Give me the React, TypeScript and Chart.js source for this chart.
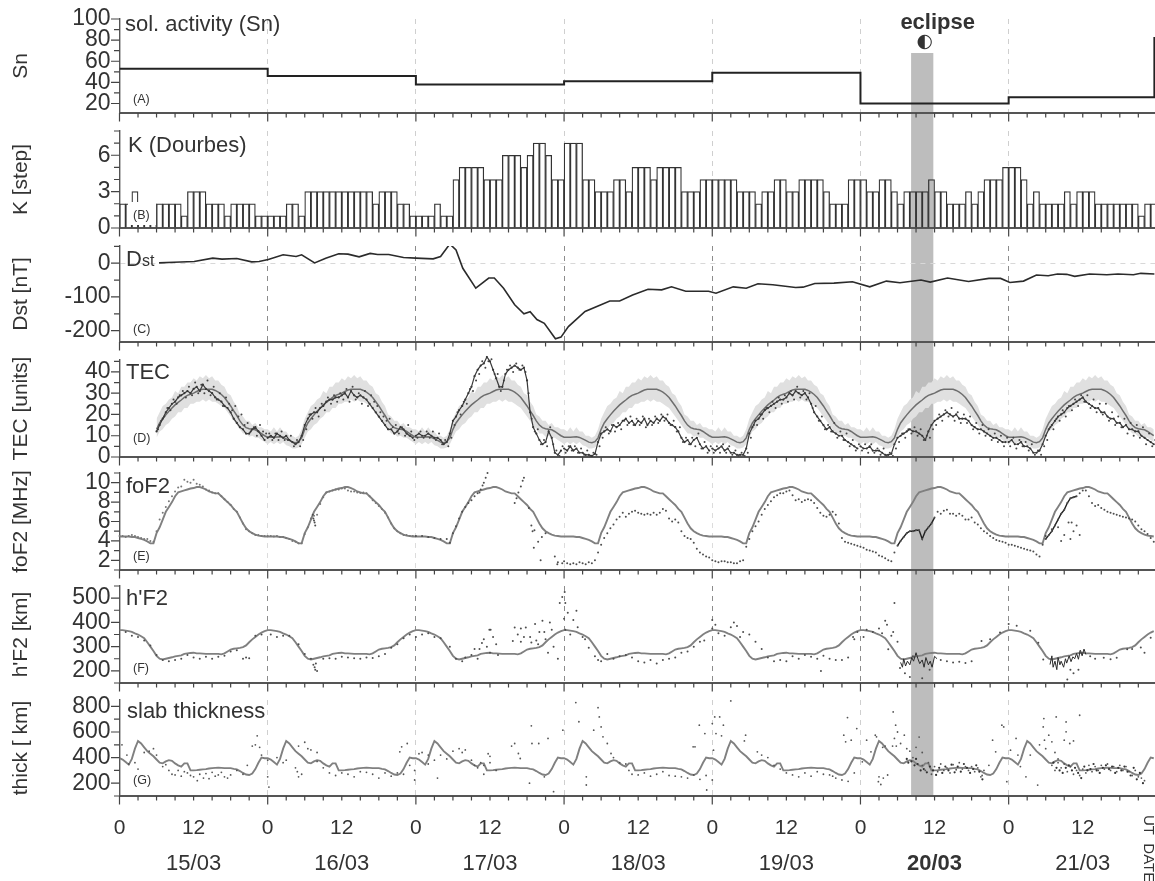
import { useEffect, useRef } from 'react';
import { Chart, registerables } from 'chart.js';

Chart.register(...registerables);

const FONT = '"Liberation Sans", Arial, sans-serif';
const INK = '#333';
const X_MAX = 167.7;

// eclipse window in hours since 15/03 00 UT, and top of the band in Sn units
const eclipseStart = 128.2;
const eclipseEnd = 131.8;
const eclipseTopSn = 67.8;

const dayLabels = ['15/03', '16/03', '17/03', '18/03', '19/03', '20/03', '21/03'];

// (A) sunspot number, value per day
const snHours = [0, 24, 48, 72, 96, 120, 144, 167.6];
const snValues = [53, 46, 38, 41, 49, 20, 26, 83];

// (B) K index, one bar per hour
const kValues = [
  2, 2, 3, 2, 2, 2, 2, 2, 2, 2, 1, 3, 3, 3, 2, 2, 2, 1, 2, 2, 2, 2, 1, 1,
  1, 1, 1, 2, 2, 1, 3, 3, 3, 3, 3, 3, 3, 3, 3, 3, 3, 2, 3, 3, 3, 2, 2, 1,
  1, 1, 1, 2, 1, 1, 4, 5, 5, 5, 5, 4, 4, 4, 6, 6, 6, 5, 6, 7, 7, 6, 4, 4,
  7, 7, 7, 4, 4, 3, 3, 3, 4, 4, 3, 5, 5, 5, 4, 5, 5, 5, 5, 3, 3, 3, 4, 4,
  4, 4, 4, 4, 3, 3, 3, 2, 3, 3, 4, 4, 3, 3, 4, 4, 4, 4, 3, 2, 2, 2, 4, 4,
  4, 3, 3, 4, 4, 3, 2, 3, 3, 3, 3, 4, 3, 3, 2, 2, 2, 3, 2, 3, 4, 4, 4, 5,
  5, 5, 4, 2, 3, 2, 2, 2, 2, 3, 2, 3, 3, 3, 2, 2, 2, 2, 2, 2, 2, 1, 2, 2,
];

// (C) Dst
const dstHours = [
  6.4, 8.8, 12.1, 15.1, 16.6, 19, 21.4, 22.6, 24.1, 26.5, 28.6, 29.5, 31.6, 33.4, 35.5, 37, 38.8, 40.6, 41.8, 43.6,
  46, 48, 50.8, 52, 53.5, 54.5, 55.6, 57.7, 59.8, 60.7, 62.2, 64, 65.5, 66.5, 67.6, 68.8, 70.6, 71.5, 72.7, 75.4,
  77.6, 79.4, 81, 83.1, 85.6, 87.8, 89.4, 91.7, 95.4, 96.6, 99.4, 101.5, 103.4, 105.8, 109.5, 110.7, 112.6, 115.7,
  118.7, 121.5, 124.2, 126.4, 129.8, 131.3, 134.1, 137.5, 140.8, 142.7, 144.2, 146.4, 148.5, 150.4, 151.9, 153.4,
  154.7, 157.1, 159.9, 161.7, 164.2, 165.4, 167.6,
];
const dstValues = [
  1, 3, 5, 15, 12, 14, 4, 5, 11, 25, 20, 25, 1, 15, 28, 27, 19, 29, 26, 26,
  17, 15, 13, 20, 57, 39, -15, -74, -44, -44, -74, -123, -150, -144, -167, -178, -224, -219, -188, -143,
  -126, -112, -112, -94, -77, -79, -70, -83, -83, -89, -70, -74, -61, -64, -72, -71, -60, -59,
  -55, -70, -53, -58, -50, -56, -44, -54, -45, -45, -57, -53, -35, -37, -32, -33,
  -39, -32, -34, -32, -34, -30, -32,
];

// (D) TEC: half-hourly monthly median and its spread for one day
const tecMedianDay = [
  9.3, 9.3, 9.3, 9.4, 9.5, 9.2, 8.5, 7.8, 7, 6.7, 7.2, 9, 13, 16, 18, 19.8, 21.5, 23, 24.5, 25.7, 26.8, 28, 29, 29.5,
  30, 30.8, 31.5, 31.8, 31.9, 31.9, 31.8, 31.3, 30.5, 29.4, 28, 26, 24, 21.7, 19.5, 17, 15, 13.8, 13.3, 13, 12.8, 12, 11, 10,
];
const tecUpperDay = [
  13, 12, 14, 12, 14, 12, 12, 10, 10, 9, 10, 13, 18, 21, 24, 25, 27, 28, 31, 30, 33, 33, 35, 35,
  37, 36, 38, 37, 38.5, 37, 38, 36, 36, 34, 33, 30, 29, 26, 24, 20, 19, 17, 17, 15, 16, 14, 14, 13,
];
const tecLowerDay = [
  6, 7, 6, 7, 6, 7, 5.5, 5, 4, 4, 4.5, 6, 9, 12, 13, 15, 16, 18, 19, 21, 21, 23, 23, 25,
  25, 26, 26, 27, 26, 27, 26, 26, 25, 24, 23, 21, 19, 17, 15, 13, 11, 11, 9.5, 10, 9, 9, 8, 7,
];

// TEC observed, half-hourly, one list per day
const tecObs15 = [
  null, null, null, null, null, null, null, null, null, null, null, null, 12, 15, 18, 21, 23, 25, 26, 28, 29, 30, 31, 30,
  32, 33, 31, 34, 32, 31, 30, 28, 27, 26, 24, 23, 21, 18, 16, 14, 13, 11, 11, 13, 14, 12, 10, 8,
];
const tecObs16 = [
  9, 10, 9, 11, 10, 9, 10, 8, 7, 6, 7, 10, 15, 18, 20, 21, 21, 23, 24, 26, 27, 27, 28, 28,
  29, 30, 28, 31, 29, 28, 29, 28, 27, 25, 23, 21, 19, 17, 15, 13, 13, 11, 12, 14, 13, 11, 10, 9,
];
const tecObs17 = [
  10, 11, 10, 10, 11, 10, 9, 9, 8, 6, 7, 11, 17, 19, 22, 24, 27, 30, 33, 38, 41, 43, 44, 47,
  45, 41, 37, 33, 33, 39, 41, 42, 43, 42, 41, 42, 36, 21, 14, 11, 8, 6, 7, 12, 9, 2, 1, 3,
];
const tecObs18 = [
  4, 3, 5, 3, 4, 2, 2, 1, 1, 0.5, 1.5, 7, 11, 12, 13, 12, 15, 14, 15, 17, 18, 16, 17, 15,
  17, 16, 18, 15, 17, 16, 18, 17, 19, 18, 16, 15, 14, 12, 9, 7, 8, 6, 8, 9, 6, 4, 5, 3,
];
const tecObs19 = [
  4, 3, 4, 5, 3, 4, 2, 2, 1, 1, 1, 4, 11, 14, 17, 18, 20, 22, 23, 24, 25, 26, 27, 27,
  28, 30, 29, 31, 30, 29, 30, 28, 25, 21, 19, 17, 15, 13, 14, 12, 11, 10, 10, 8, 7, 6, 5, 4,
];
const tecObs20 = [
  5, 4, 4, 5, 3, 3, 3, 2, 1, 1, 1.5, 6, 9, 10, 11, 12, 13, 12, 12, 11, 10, 8, 12, 15,
  17, 18, 19, 20, 21, 20, 19, 20, 18, 18, 18, 17, 15, 14, 13, 13, 12, 11, 10, 9, 9, 8, 7, 7,
];
const tecObs21 = [
  7, 8, 6, 6, 7, 5, 5, 4, 2, 2, 3, 6, 10, 13, 15, 17, 19, 20, 21, 23, 24, 25, 26, 27,
  28, 26, 25, 24, 23, 23, 21, 21, 19, 18, 18, 16, 16, 14, 15, 13, 13, 12, 12, 10, 9, 8, 7, 6,
];
// second readings between the half hours, the speckle around the trace
const tecSpeck15 = [
  null, null, null, null, null, null, null, null, null, null, null, null, 13, 17, 19, 23, 22, 27, 25, 29, 31, 28, 33, 29,
  35, 30, 34, 30, 36, 29, 33, 27, 30, 24, 28, 25, 22, 24, 19, 20, 15, 16, 12, 14, 10, 15, 12, 11,
];
const tecSpeck16 = [
  11, 8, 11, 8, 12, 8, 8, 10, 5, 8, 5, 8, 13, 20, 18, 23, 19, 25, 22, 28, 25, 29, 26, 30,
  27, 32, 26, 33, 27, 30, 25, 31, 24, 29, 26, 24, 21, 19, 17, 18, 14, 15, 11, 14, 10, 15, 12, 8,
];
const tecSpeck17 = [
  9, 12, 9, 12, 9, 12, 8, 11, 6, 8, 5, 9, 15, 21, 20, 26, 25, 32, 31, 36, 39, 45, 42, 45,
  46, 39, 39, 31, 36, 41, 43, 40, 44, 41, 43, 40, 30, 18, 12, 13, 6, 8, 5, 14, 6, 3, 0.5, 5,
];
const tecSpeck18 = [
  2, 5, 3, 5, 2, 4, 1, 3, 0.5, 2, 1, 5, 9, 14, 11, 15, 12, 16, 13, 17, 15, 19, 15, 18,
  15, 19, 14, 18, 15, 19, 16, 20, 17, 20, 15, 17, 12, 14, 7, 9, 6, 9, 5, 11, 4, 7, 2, 5,
];
const tecSpeck19 = [
  2, 5, 2, 6, 2, 5, 1, 3, 0.5, 2, 0.5, 2, 9, 15, 15, 20, 18, 23, 21, 26, 23, 28, 25, 29,
  26, 31, 27, 33, 28, 31, 27, 30, 23, 24, 17, 19, 13, 15, 12, 16, 9, 12, 8, 11, 5, 8, 3, 6,
];
const tecSpeck20 = [
  3, 6, 2, 6, 2, 4, 1, 4, 0.5, 2, 0.5, 4, 7, 11, 9, 13, 11, 14, 10, 13, 8, 10, 9, 13,
  15, 20, 17, 22, 19, 23, 17, 21, 16, 20, 16, 19, 13, 16, 11, 15, 10, 13, 8, 11, 7, 10, 5, 9,
];
const tecSpeck21 = [
  5, 9, 4, 8, 5, 7, 3, 6, 1, 3, 1, 5, 8, 14, 13, 18, 17, 22, 19, 24, 22, 27, 24, 29,
  26, 29, 23, 27, 21, 25, 20, 25, 17, 21, 15, 19, 14, 18, 11, 16, 10, 15, 9, 14, 6, 11, 5, 8,
];

// (E) foF2
const fof2MedianDay = [
  4.45, 4.45, 4.45, 4.45, 4.4, 4.4, 4.3, 4.2, 4.1, 3.95, 3.75, 3.75, 4.8, 5.4, 6.2, 7, 7.5, 8, 8.6, 9, 9.1, 9.2, 9.3, 9.4,
  9.45, 9.55, 9.55, 9.45, 9.3, 9.1, 9, 8.9, 8.9, 8.6, 8.3, 8, 7.7, 7.3, 7, 6.4, 5.8, 5.3, 5, 4.8, 4.65, 4.55, 4.5, 4.45,
];
const fof2Obs15 = [
  4.5, 4.5, 4.4, 4.5, 4.6, 4.5, 4.4, 4.3, 4.2, 4.2, 4, 3.9, 5, 6.2, 6.9, 7.5, 8.1, 8.6, 9.1, 9.5, 9.6, 10.3, 10.1, 10,
  10.3, 9.9, 9.8, 9.6, 9.3, 9.2, 9, 8.9, 8.9, 8.6, 8.3, 8, 7.7, 7.3, 7, 6.4, 5.8, 5.2, 5, 4.8, 4.6, 4.6, 4.5, 4.5,
];
const fof2Obs16 = [
  4.5, 4.5, 4.45, 4.5, 4.4, 4.4, 4.3, 4.2, 4, 3.9, 3.75, 3.75, 4.7, 5.4, 6.3, 6.6, 6.7, 7.8, 8.5, 9, 9.1, 9.2, 9.3, 9.3,
  9.4, 9.4, 9.2, 9.1, 9.1, 9, 8.95, 9, 8.9, 8.6, 8.2, 7.9, 7.6, 7.3, 6.9, 6.4, 5.8, 5.3, 5, 4.8, 4.6, 4.6, 4.5, 4.5,
];
const fof2Obs18 = [
  1.9, 1.7, 1.6, 1.7, 1.6, 1.8, 1.7, 1.6, 1.8, 1.7, 2, 2.8, 3.6, 4.3, 4.8, 5.3, 5.7, 6.2, 6.5, 6.9, 6.5, 6.8, 7, 7.1,
  6.9, 6.8, 6.7, 6.8, 6.7, 6.9, 6.7, 6.9, 7.3, 7.1, 6.3, 6, 6.2, 5.9, 5, 4.5, 4.3, 4.2, 3.8, 3.2, 2.8, 2.6, 2.4, 2.3,
];
const fof2Obs19 = [
  2, 1.9, 1.8, 1.9, 1.9, 1.8, 1.8, 1.7, 1.7, 1.9, 2, 3.4, 4.2, 5, 5.5, 6, 6.7, 7.3, 7.7, 8.1, 8.5, 8.7, 8.9, 8.9,
  9.1, 9.2, 8.7, 8.2, 8.3, 8, 8.2, 8.3, 8.2, 7.9, 7.4, 6.9, 6.6, 6.5, 6.7, 7, 6.7, 5.8, 4.3, 3.9, 3.8, 3.7, 3.6, 3.5,
];
const fof2Obs20 = [
  3.4, 3.3, 3.1, 3, 2.9, 2.8, 2.5, 2.4, 2.2, 2, 1.9, 2.8, 3.5, 4, 4.4, 4.8, 5, 5, 5.1, 5.1, 4.2, 5, 5.4, 5.8,
  6.4, 7, 6.8, 7.1, 7.2, 6.8, 6.8, 6.6, 6.8, 6.6, 6.2, 6.2, 6.4, 5.9, 5.7, 5.3, 5, 4.8, 4.5, 4.3, 4.1, 4, 3.9, 3.8,
];
const fof2Obs21 = [
  3.6, 3.6, 3.5, 3.4, 3.3, 3.2, 3.1, 3, 2.9, 2.6, 2.4, 3.6, 4.2, 4.6, 5, 5.6, 6.2, 6.8, 7.2, 7.9, 8.4, 8.5, 8.6, 8.9,
  9.2, 9.2, 8.6, 7.9, 7.6, 7.7, 7.4, 7.2, 7, 6.9, 6.8, 6.7, 6.6, 6.5, 6.4, 6.3, 6.2, 6, 5.6, 5.2, 5, 4.7, 4.3, 3.9,
];
// the irregular soundings, as [hour, MHz]
const fof2Dots: number[][] = [
  [31.3, 6.7], [31.4, 6.3], [31.5, 6.1], [31.6, 5.9], [31.7, 5.6],
  [48, 4.5], [49, 4.5], [50, 4.4], [51, 4.3], [52, 4.2], [53, 4.2], [53.5, 3.8], [54, 4.8], [54.5, 5.5], [55, 6.3], [55.5, 7], [56, 7.5],
  [56.5, 7.9], [57, 8.2], [57.5, 8.6], [58, 8.9], [58.3, 9], [58.5, 9.3], [58.8, 9.7], [59, 10], [59.3, 10.5], [59.6, 11],
  [64, 7.9], [64.3, 8.4], [64.6, 9], [65, 9.6], [65.3, 10.2], [65.5, 10.5], [66.3, 7.4], [66.7, 5.6], [66.9, 5], [67.1, 3.3], [67.2, 5.1],
  [67.8, 3.9], [68.2, 2], [68.4, 4.4], [69, 4.8], [70.5, 2.4], [71.7, 1.7], [70.9, 1.6], [71, 1.8],
  [150, 4.5], [151, 5.2], [152, 5.4], [152.5, 4], [153, 4.6], [153.7, 5.9], [154.2, 5.9], [155, 5.6], [154.5, 5], [155.5, 4.6], [154, 4.2],
];
// darker trace through the eclipse and the morning of 21/03
const fof2Dense20: number[][] = [
  [126, 3.5], [126.5, 4], [127, 4.4], [127.5, 4.8], [128, 5], [128.5, 5], [129, 5.1], [129.5, 5.1], [130, 4.2], [130.5, 5], [131, 5.4], [131.5, 5.8], [132, 6.4],
];
const fof2Dense21: number[][] = [
  [150, 4.2], [150.5, 4.6], [151, 5], [151.5, 5.6], [152, 6.2], [152.5, 6.8], [153, 7.2], [153.5, 7.9], [154, 8.4], [154.5, 8.5], [155, 8.6],
];

// (F) h'F2
const hf2MedianDay = [
  368, 368, 366, 364, 361, 355, 350, 343, 335, 318, 300, 282, 262, 250, 247, 250, 253, 256, 260, 262, 264, 270, 272, 274,
  275, 272, 272, 271, 270, 270, 270, 270, 270, 268, 272, 280, 288, 291, 293, 295, 298, 305, 318, 330, 340, 350, 358, 364,
];
const hf2Dots: number[][] = [
  [1, 360], [2, 345], [3, 340], [4, 325], [5, 305], [6, 265], [7, 245], [8, 240], [9, 245], [10, 250], [11, 265], [12, 255], [13, 250], [14, 258],
  [15, 250], [16, 258], [17, 262], [18, 280], [19, 285], [20, 250], [20.5, 255], [21, 252], [22, 345], [23, 350],
  [24.5, 350], [25.5, 340], [26.5, 345], [27.5, 345], [29, 310], [30, 270], [31, 250], [31.6, 215], [31.7, 205], [31.8, 230], [32, 200], [31.4, 225],
  [33, 250], [34, 252], [35, 250], [36, 258], [37, 255], [38, 252], [39, 250], [40, 255], [41, 253], [42, 260], [43, 270], [44, 295], [45, 310], [46, 335], [47, 350],
  [48, 340], [49, 350], [50, 355], [51, 340], [52, 335], [53.5, 300], [54.5, 250], [55.5, 240], [56, 255], [57, 265], [57.5, 290], [58, 250], [58.3, 290],
  [58.7, 315], [59, 330], [59.5, 300], [59.9, 370], [60, 275], [60.1, 370], [60.5, 340], [61, 310], [61.3, 265],
  [64, 379], [63.7, 323], [64.5, 350], [65, 320], [65, 375], [65.5, 340], [65.8, 379], [66.5, 340], [66.7, 317], [67.3, 393], [67.5, 325], [67.8, 310], [68, 360],
  [68.5, 407], [68.8, 360], [69, 330], [69.4, 275], [69.7, 400], [70, 370], [70.3, 300], [71, 250],
  [71.3, 480], [71.7, 505], [72.1, 525], [72.2, 480], [72.6, 440], [72, 415], [72.2, 370], [73, 350], [73.5, 410], [74, 448], [74.2, 380], [75, 340], [75.4, 330], [76, 295],
  [77, 260], [77.5, 245], [78, 240], [79, 270], [80, 250], [81, 260], [82, 265], [83, 255], [84, 240], [85, 235], [86, 245], [87, 230], [88, 245], [89, 250], [90, 255],
  [91, 275], [92, 280], [93, 300], [94, 320], [94.7, 325],
  [96, 410], [96, 375], [96.5, 390], [97, 355], [98, 345], [99, 380], [99.5, 400], [100, 385], [100.5, 340], [101, 360], [102, 350], [103, 320], [104, 290], [105, 255],
  [106, 240], [107, 245], [108, 240], [109, 260], [110, 250], [111, 265], [112, 258], [113, 250], [113.6, 200], [114, 262], [115, 250], [116, 245], [117, 245], [118, 255],
  [118.8, 340], [119, 330], [119.5, 360], [120.5, 340], [121, 370], [122, 360], [123, 375], [123.5, 355], [124, 407], [124.3, 390], [124.5, 289], [125, 345], [125.3, 360], [125.5, 480],
  [126, 320], [126.4, 212], [127.2, 190], [128, 175], [128.5, 260], [130, 170], [131.2, 205],
  [133, 245], [134, 240], [135, 235], [136, 238], [137, 232], [138, 240], [139.6, 323], [141, 330], [142.6, 358], [144, 393], [145.3, 386], [147.5, 365], [148.8, 316], [149.6, 247],
  [153.5, 164], [154, 205], [154.5, 190], [155.3, 205], [155.6, 280], [157.2, 260], [158, 250], [159.4, 254], [160.5, 248], [161.5, 254], [163.2, 289], [164, 290], [165.4, 296], [166, 275], [167, 337],
];
const hf2Dense20: number[][] = [
  [126.5, 235], [126.8, 215], [127, 250], [127.3, 220], [127.6, 240], [128, 225], [128.3, 255], [128.6, 240], [129, 275], [129.3, 250], [129.6, 230], [130, 245], [130.3, 215],
  [130.6, 255], [131, 225], [131.3, 240], [131.6, 215], [132, 260], [132.4, 250],
];
const hf2Dense21: number[][] = [
  [150.7, 226], [151, 262], [151.2, 215], [151.5, 240], [151.8, 205], [152, 255], [152.3, 225], [152.5, 240], [152.9, 215], [153.2, 250], [153.4, 232], [153.8, 262], [154.1, 238],
  [154.4, 258], [154.7, 250], [155, 272], [155.3, 248], [155.6, 285], [155.9, 262], [156.2, 290], [156.5, 268],
];

// (G) slab thickness
const thickMedianDay = [
  395, 385, 365, 345, 390, 470, 530, 510, 480, 450, 430, 410, 385, 360, 355, 370, 380, 375, 355, 340, 330, 355, 355, 300,
  300, 302, 305, 308, 310, 315, 318, 320, 322, 320, 318, 318, 318, 312, 308, 295, 280, 268, 264, 275, 310, 360, 400, 395,
];
const thickDots: number[][] = [
  [0.4, 500], [1.2, 420], [1.5, 350], [2.5, 360], [3, 310], [4, 440], [4.8, 450], [5.5, 470], [6, 420], [7, 330], [7.5, 345], [8, 300], [8.5, 270], [9, 265], [9.5, 300], [10, 255],
  [10.5, 290], [11, 280], [11.5, 260], [12, 250], [12.6, 220], [13, 270], [13.6, 240], [14, 275], [14.5, 235], [15, 285], [15.5, 255], [16, 265], [16.5, 285], [17, 250], [17.5, 240],
  [18, 265], [19, 300], [20, 270], [20.7, 340], [21.5, 490], [22, 500], [22.3, 570], [22.7, 480], [23, 420], [24, 250], [24.2, 170], [24, 380],
  [25.5, 400], [26.5, 360], [27, 380], [28.5, 320], [28.8, 290], [29, 250], [29.5, 270], [30, 520], [29, 490], [30.5, 470], [31, 460], [32, 440], [32, 370], [33, 320], [34, 280],
  [35, 260], [36, 280], [37, 270], [38, 250], [39, 290], [40, 285], [41, 270], [42, 240], [43, 280], [44, 255], [45, 280], [45.4, 445], [45.7, 484], [46, 270], [46.6, 510], [47, 340],
  [47.8, 300], [47.8, 225], [48.5, 430], [49, 440], [50, 420], [50, 350], [51, 380], [51.5, 240], [52, 420], [53, 390], [54, 450], [55, 470], [55.5, 440], [56, 460], [57, 380],
  [57.5, 340], [58, 320], [58.5, 360], [59, 340], [59, 270], [59.7, 430], [60, 410], [60, 360], [61, 300],
  [63.5, 490], [64, 510], [64.6, 432], [64.9, 393], [66.4, 200], [66.7, 648], [66.8, 510], [67.9, 510], [68.8, 250], [69.4, 550], [70.3, 134], [71.8, 614], [73.9, 830],
  [74.4, 680], [75.6, 250], [75.6, 186], [76.8, 614], [77.5, 790], [77.7, 718], [78, 640], [78.3, 562], [79, 510], [79.6, 432], [80, 400], [81, 360], [82, 350], [82.5, 300], [83, 270],
  [84, 265], [85, 280], [86, 255], [87, 270], [88, 290], [89, 260], [90, 255], [91, 250], [92, 240], [92.9, 484], [93.2, 484], [93, 265], [93.9, 653], [94, 230], [94.8, 588], [95, 260], [95.1, 147],
  [96, 666], [96, 225], [96.2, 458], [96.4, 718], [96.6, 588], [97.2, 718], [97.5, 570], [97.8, 653], [99, 843], [101.4, 575], [101.2, 530], [103.3, 445],
  [104, 420], [105, 400], [106, 340], [107, 310], [108, 280], [109, 265], [110, 250], [111, 280], [112, 255], [113, 290], [114, 270], [115, 265], [115.5, 255], [116, 240], [117, 225],
  [117.3, 575], [117.6, 523], [117.9, 713], [118, 215], [118.5, 536], [119, 280], [119.4, 627], [120.3, 367], [121, 536], [121.7, 445], [122.4, 575], [122.6, 562], [122.9, 212], [123, 250],
  [123.3, 190], [123.6, 480], [123.7, 240], [124, 490], [124.4, 264], [125.2, 490], [125.3, 757], [125.5, 550], [125.7, 653], [125.8, 490], [126, 600], [126.5, 510], [127.1, 575],
  [127.5, 470], [128, 450], [128.5, 400], [129, 480], [129.5, 560], [130, 440],
  [130, 340], [130.5, 300], [131, 360], [131.5, 270], [132, 330], [132.5, 290], [133, 350], [133.5, 300], [134, 320], [134.5, 280], [135, 345], [135.5, 305], [136, 360], [136.5, 310],
  [137, 330], [137.5, 300], [138, 330], [138.5, 290], [139, 320], [139.5, 250], [139.7, 260], [140, 300],
  [140.8, 340], [141.4, 536], [141.9, 445], [142.9, 653], [143.2, 640], [143.7, 212], [144.3, 458], [145.2, 550], [145.5, 420], [145.9, 330], [146.8, 250], [147.5, 420], [148.7, 185],
  [149, 500], [149.6, 640], [149.7, 705], [149.8, 536], [150, 470], [150.5, 575], [151, 523], [151.5, 440], [151.7, 718], [152, 390], [153, 536], [153.3, 679], [153.3, 601], [153.9, 510],
  [154.5, 530], [155.5, 731],
  [151, 340], [151.5, 300], [152, 360], [152.5, 320], [153, 350], [153.5, 290], [154, 330], [154.5, 270], [155, 300], [155.5, 260], [156, 310], [156.5, 280], [157, 340], [157.5, 290],
  [158, 330], [158.5, 300], [159, 340], [159.5, 310], [160, 350], [160.5, 300], [161, 330], [161.5, 290], [162, 340], [162.5, 300], [163, 330], [163.5, 290], [164, 260], [164.5, 300], [165, 250],
  [165.5, 240], [166, 220],
];
// the thick run of soundings during and after the eclipse, and on 21/03
const thickDense: number[][] = [
  [127.5, 390], [127.75, 360], [128.25, 370], [128.75, 340], [129, 390], [129.25, 350], [129.75, 300], [130.25, 310], [130.75, 285], [131.25, 330], [131.75, 300], [132.25, 265],
  [132.75, 320], [133.25, 280], [133.75, 330], [134.25, 300], [134.75, 345], [135.25, 285], [135.75, 330], [136.25, 290], [136.75, 350], [137.25, 320], [137.75, 280], [138.25, 310],
  [138.75, 340], [139.25, 290], [139.75, 230],
  [151.25, 360], [151.75, 320], [152.25, 300], [152.75, 280], [153.25, 320], [153.75, 340], [154.25, 300], [154.75, 320], [155.25, 280], [155.75, 240], [156.25, 330], [156.75, 300],
  [157.25, 310], [157.75, 350], [158.25, 300], [158.75, 280], [159.25, 320], [159.75, 340], [160.25, 310], [160.75, 330], [161.25, 280], [161.75, 320], [162.25, 300], [162.75, 330],
  [163.25, 290], [163.75, 260], [164.25, 320], [164.75, 230], [165.25, 280], [165.75, 200],
];

const halfHours = (values: (number | null)[], day: number, shift = 0) =>
  values.map((y, i) => ({ x: day * 24 + i / 2 + shift, y })).filter(p => p.y !== null);
const everyDay = (values: number[]) => [0, 1, 2, 3, 4, 5, 6].flatMap(day => halfHours(values, day));
const pairs = (list: number[][]) => list.map(([x, y]) => ({ x, y }));

const medianLine = (data: object[], color = '#808080', width = 1.9) => ({
  data, borderColor: color, borderWidth: width, pointRadius: 0, tension: 0, order: 2,
});
const dots = (data: object[], color = '#4d4d4d', radius = 1) => ({
  data, showLine: false, pointRadius: radius, pointBorderWidth: 0, pointBackgroundColor: color, clip: false, order: 1,
});
const trace = (data: object[], color = '#222', width = 1.1) => ({
  data, borderColor: color, borderWidth: width, pointRadius: 0, clip: false, order: 1,
});

const tecFromDay6 = (values: number[]) => everyDay(values).filter(p => p.x >= 6);

const panels = [
  {
    key: 'A', type: 'line', top: 19, bottom: 113, min: 11, max: 100, minor: 10, major: 20,
    title: 'Sn', dayLine: '#cfcfcf', label: 'sol. activity (Sn)', labelX: 125, labelY: 25, tag: '(A)', tagY: 100,
    datasets: [{
      data: snHours.map((x, i) => ({ x, y: snValues[i] })), borderColor: '#222', borderWidth: 2, pointRadius: 0, stepped: 'before',
    }],
  },
  {
    key: 'B', type: 'bar', top: 131, bottom: 228, min: 0, max: 8, minor: 1, major: 3,
    title: 'K [step]', dayLine: '#cfcfcf', label: 'K (Dourbes)', labelX: 128, labelY: 146, tag: '(B)', tagY: 216,
    datasets: [{
      data: kValues.map((y, i) => ({ x: i + 0.5, y })), backgroundColor: 'transparent', borderColor: '#333', borderWidth: 0.6,
      barPercentage: 1, categoryPercentage: 1,
    }],
  },
  {
    key: 'C', type: 'line', top: 246, bottom: 342, min: -233.5, max: 51, minor: 50, major: 100,
    title: 'Dst [nT]', dayLine: '#8c8c8c', zeroLine: true, label: 'D', labelX: 126, labelY: 260, tag: '(C)', tagY: 330,
    datasets: [{
      data: dstHours.map((x, i) => ({ x, y: dstValues[i] })), borderColor: '#2b2b2b', borderWidth: 1.6, pointRadius: 0,
    }],
  },
  {
    key: 'D', type: 'line', top: 360, bottom: 457, min: 0, max: 45.6, minor: 5, major: 10,
    title: 'TEC [units]', dayLine: '#dcdcdc', label: 'TEC', labelX: 126, labelY: 373, tag: '(D)', tagY: 439,
    datasets: [
      { data: tecFromDay6(tecUpperDay), borderWidth: 0, pointRadius: 0, fill: '+1', backgroundColor: '#e0e0e0', order: 4 },
      { data: tecFromDay6(tecLowerDay), borderWidth: 0, pointRadius: 0, order: 4 },
      medianLine(tecFromDay6(tecMedianDay), '#6e6e6e', 1.5),
      ...[tecObs15, tecObs16, tecObs17, tecObs18, tecObs19, tecObs20, tecObs21].flatMap((obs, day) => [
        trace(halfHours(obs, day), '#3a3a3a', 1.2),
        dots(halfHours(obs, day), '#333', 1.1),
      ]),
      ...[tecSpeck15, tecSpeck16, tecSpeck17, tecSpeck18, tecSpeck19, tecSpeck20, tecSpeck21].map((obs, day) =>
        dots(halfHours(obs, day, 0.25), '#444', 1)),
    ],
  },
  {
    key: 'E', type: 'line', top: 473, bottom: 570, min: 1, max: 11, minor: 1, major: 2,
    title: 'foF2 [MHz]', dayLine: '#dcdcdc', label: 'foF2', labelX: 126, labelY: 487, tag: '(E)', tagY: 557,
    datasets: [
      medianLine(everyDay(fof2MedianDay)),
      dots(halfHours(fof2Obs15, 0), '#777'),
      dots(halfHours(fof2Obs16, 1), '#777'),
      dots(halfHours(fof2Obs18, 3)),
      dots(halfHours(fof2Obs19, 4)),
      dots(halfHours(fof2Obs20, 5)),
      dots(halfHours(fof2Obs21, 6)),
      dots(pairs(fof2Dots)),
      trace(pairs(fof2Dense20), '#222', 1.4),
      trace(pairs(fof2Dense21), '#222', 1.4),
    ],
  },
  {
    key: 'F', type: 'line', top: 586, bottom: 683, min: 150, max: 550, minor: 50, major: 100,
    title: "h'F2 [km]", dayLine: '#8c8c8c', label: "h'F2", labelX: 126, labelY: 599, tag: '(F)', tagY: 669,
    datasets: [
      medianLine(everyDay(hf2MedianDay)),
      dots(pairs(hf2Dots)),
      trace(pairs(hf2Dense20), '#2b2b2b', 1),
      trace(pairs(hf2Dense21), '#2b2b2b', 1),
    ],
  },
  {
    key: 'G', type: 'line', top: 700, bottom: 796, min: 100, max: 850, minor: 100, major: 200,
    title: 'thick [ km]', dayLine: '#cfcfcf', label: 'slab thickness', labelX: 127, labelY: 712, tag: '(G)', tagY: 781,
    datasets: [medianLine(everyDay(thickMedianDay)), dots(pairs(thickDots), '#555', 0.9), dots(pairs(thickDense), '#333', 1.1)],
  },
];

const TICK_ROOM = 9;
const PAGE_BOTTOM = 881;

// tick labels must not push the plot area in: the panels are placed by hand
const noAutoPadding = (scale: any) => {
  scale.paddingTop = 0;
  scale.paddingBottom = 0;
  scale.paddingLeft = 0;
  scale.paddingRight = 0;
};

function Panel({ spec, canvasTop, canvasBottom }: { spec: any; canvasTop: number; canvasBottom: number }) {
  const chartRef = useRef<HTMLCanvasElement>(null);

  useEffect(() => {
    if (!chartRef.current) return;
    const isLast = spec.key === 'G';

    const panelArt = {
      id: 'panelArt',
      beforeDraw(chart: any) {
        // the eclipse band runs through the gaps between panels
        const { ctx, scales } = chart;
        const x0 = scales.x.getPixelForValue(eclipseStart);
        const x1 = scales.x.getPixelForValue(eclipseEnd);
        const yTop = spec.key === 'A' ? scales.y.getPixelForValue(eclipseTopSn) : 0;
        const yBottom = isLast ? chart.chartArea.bottom : chart.height;
        ctx.save();
        ctx.fillStyle = '#bdbdbd';
        ctx.fillRect(x0, yTop, x1 - x0, yBottom - yTop);
        ctx.restore();
      },
      afterDatasetsDraw(chart: any) {
        const { ctx } = chart;
        ctx.save();
        ctx.textBaseline = 'middle';
        if (spec.key === 'B') {
          // the (B) tag sits on a white box over the first bars
          ctx.fillStyle = '#fff';
          ctx.fillRect(128, 202 - canvasTop, 28, 23);
        }
        ctx.fillStyle = INK;
        ctx.font = `22px ${FONT}`;
        ctx.fillText(spec.label, spec.labelX, spec.labelY - canvasTop);
        if (spec.key === 'C') {
          const w = ctx.measureText('D').width;
          ctx.font = `16px ${FONT}`;
          ctx.fillText('st', spec.labelX + w, spec.labelY + 2 - canvasTop);
        }
        ctx.font = `12.5px ${FONT}`;
        ctx.fillText(spec.tag, 133, spec.tagY - canvasTop);
        ctx.restore();
      },
      afterDraw(chart: any) {
        const { ctx, scales, chartArea } = chart;
        ctx.save();
        ctx.strokeStyle = '#444';
        ctx.lineWidth = 1.2;
        ctx.beginPath();
        for (let h = 0; h <= X_MAX; h += 3) {
          const x = scales.x.getPixelForValue(h);
          ctx.moveTo(x, chartArea.bottom);
          ctx.lineTo(x, chartArea.bottom + (h % 24 === 0 ? 8.5 : 4.5));
        }
        scales.y.ticks.forEach((t: any) => {
          if (t.value % spec.minor !== 0) return;
          const y = scales.y.getPixelForValue(t.value);
          ctx.moveTo(chartArea.left, y);
          ctx.lineTo(chartArea.left - (t.value % spec.major === 0 ? 8.5 : 5.5), y);
        });
        ctx.stroke();

        ctx.fillStyle = INK;
        ctx.textBaseline = 'middle';
        if (spec.key === 'A') {
          ctx.textAlign = 'center';
          const mid = scales.x.getPixelForValue(eclipseStart + 2.2);
          ctx.font = `bold 22px ${FONT}`;
          ctx.fillText('eclipse', mid + 13, 23);
          ctx.font = '19px "DejaVu Sans"';
          ctx.fillText('◐', mid, 42);
        }
        if (isLast) {
          ctx.textAlign = 'center';
          dayLabels.forEach((label, i) => {
            ctx.font = `${label === '20/03' ? 'bold ' : ''}22px ${FONT}`;
            ctx.fillText(label, scales.x.getPixelForValue(24 * i + 12), 864 - canvasTop);
          });
          ctx.translate(1148, 815 - canvasTop);
          ctx.rotate(Math.PI / 2);
          ctx.textAlign = 'left';
          ctx.font = `15px ${FONT}`;
          ctx.fillText('UT  DATE', 0, 0);
        }
        ctx.restore();
      },
    };

    const chart = new Chart(chartRef.current, {
      type: spec.type,
      data: { datasets: spec.datasets },
      options: {
        animation: false,
        responsive: false,
        events: [],
        layout: { autoPadding: false, padding: { top: spec.top - canvasTop, left: 0, right: 0, bottom: 0 } },
        plugins: { legend: { display: false }, tooltip: { enabled: false } },
        scales: {
          x: {
            type: 'linear',
            offset: false,
            min: 0,
            max: X_MAX,
            afterFit: (scale: any) => {
              noAutoPadding(scale);
              scale.height = canvasBottom - spec.bottom;
            },
            border: { color: '#555', width: 2, dash: [5, 5] },
            grid: {
              offset: false,
              drawTicks: false,
              lineWidth: 1,
              color: (c: any) => (c.tick && c.tick.value % 24 === 0 && c.tick.value > 0 ? spec.dayLine : 'transparent'),
            },
            ticks: {
              display: isLast,
              stepSize: 3,
              autoSkip: false,
              maxRotation: 0,
              padding: 20,
              color: INK,
              font: { family: FONT, size: 21 },
              callback: (v: any) => (v % 24 === 0 ? '0' : v % 12 === 0 ? '12' : ''),
            },
          },
          y: {
            min: spec.min,
            max: spec.max,
            afterFit: (scale: any) => {
              noAutoPadding(scale);
              scale.width = 119.5;
            },
            border: { color: '#555', width: 1.4, dash: spec.zeroLine ? [5, 5] : undefined },
            grid: {
              drawTicks: false,
              color: (c: any) => (spec.zeroLine && c.tick && c.tick.value === 0 ? '#d8d8d8' : 'transparent'),
            },
            title: {
              display: true,
              text: spec.title,
              color: INK,
              font: { family: FONT, size: 21 },
              padding: { top: 9, bottom: 0 },
            },
            ticks: {
              stepSize: spec.minor,
              autoSkip: false,
              includeBounds: false,
              padding: 9,
              color: INK,
              font: { family: FONT, size: 23 },
              callback: (v: any) => (v % spec.major === 0 ? String(v) : ''),
            },
          },
        },
      },
      plugins: [panelArt],
    } as any);

    return () => chart.destroy();
  }, [spec, canvasTop, canvasBottom]);

  return (
    <canvas
      ref={chartRef}
      width={1155}
      height={canvasBottom - canvasTop}
      style={{ position: 'absolute', left: 0, top: canvasTop, width: 1155, height: canvasBottom - canvasTop }}
    />
  );
}

export default function App() {
  return (
    <div style={{ position: 'absolute', left: 0, top: 0, width: 1155, height: 881, overflow: 'hidden', background: '#fff' }}>
      {panels.map((spec, i) => (
        <Panel
          key={spec.key}
          spec={spec}
          canvasTop={i === 0 ? 0 : panels[i - 1].bottom + TICK_ROOM}
          canvasBottom={i === panels.length - 1 ? PAGE_BOTTOM : spec.bottom + TICK_ROOM}
        />
      ))}
    </div>
  );
}
